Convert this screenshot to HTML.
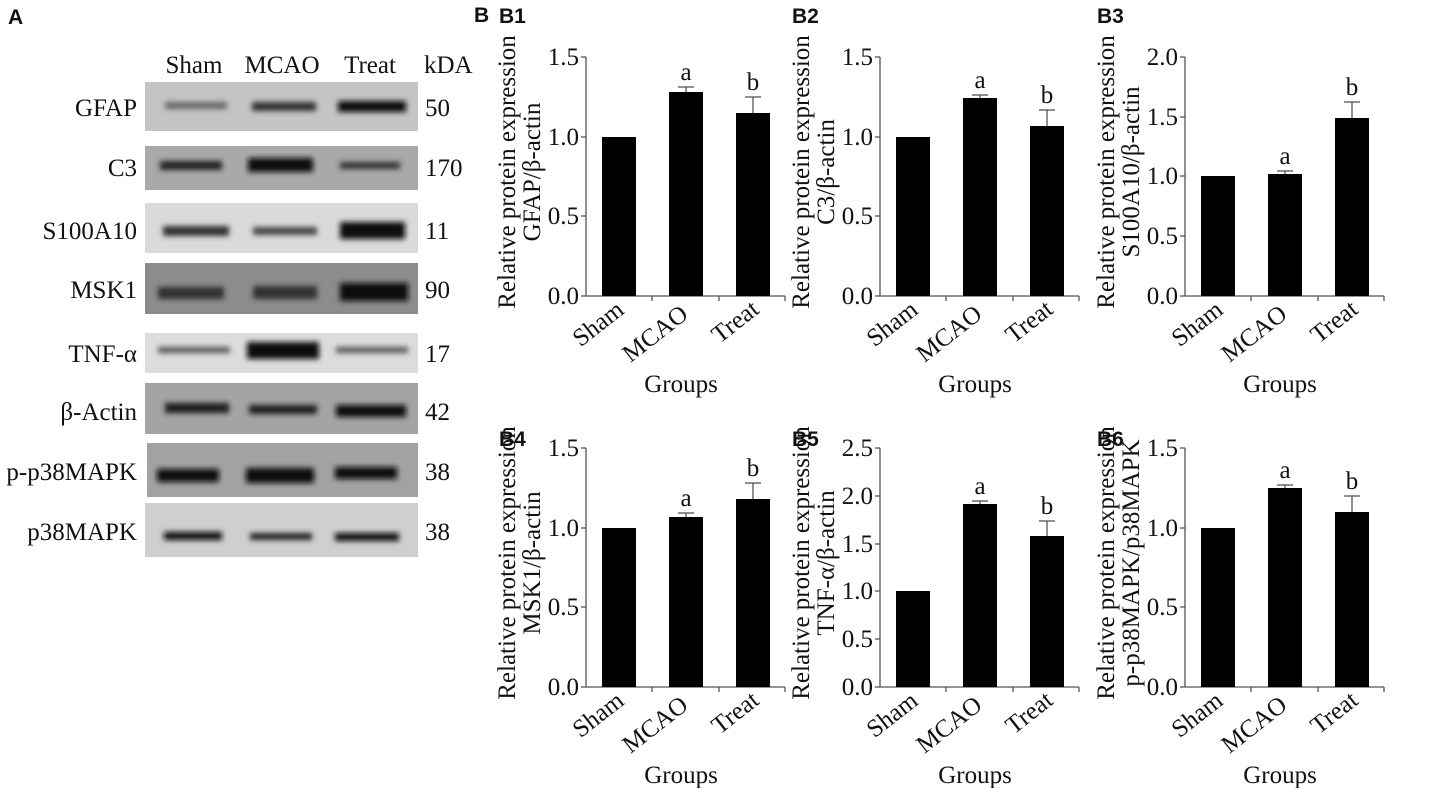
<!DOCTYPE html>
<html><head><meta charset="utf-8"><style>
body{margin:0;background:#fff;}
svg{display:block;}
.s{font-family:"Liberation Serif",serif;fill:#111;}
.t{font-size:25px;}
.y{font-size:25px;}
.b{font-family:"Liberation Sans",sans-serif;font-weight:bold;font-size:21px;fill:#111;}
</style></head><body>
<svg width="1447" height="788" viewBox="0 0 1447 788" xmlns="http://www.w3.org/2000/svg">
<defs>
<filter id="bl" x="-20%" y="-100%" width="140%" height="300%"><feGaussianBlur stdDeviation="2.6"/></filter>
<g id="ax">
<line x1="0" y1="-239" x2="0" y2="0" stroke="#555" stroke-width="1.3"/>
<line x1="0" y1="0" x2="199" y2="0" stroke="#555" stroke-width="1.3"/>
<line x1="66" y1="0" x2="66" y2="5" stroke="#555" stroke-width="1.3"/>
<line x1="133" y1="0" x2="133" y2="5" stroke="#555" stroke-width="1.3"/>
<line x1="199" y1="0" x2="199" y2="5" stroke="#555" stroke-width="1.3"/>
<text class="s t" transform="translate(17,34) rotate(-38)" text-anchor="middle">Sham</text>
<text class="s t" transform="translate(74,44) rotate(-38)" text-anchor="middle">MCAO</text>
<text class="s t" transform="translate(154,32) rotate(-38)" text-anchor="middle">Treat</text>
<text class="s t" x="95" y="96" text-anchor="middle">Groups</text>
</g>
</defs>
<text class="b" x="8" y="24">A</text>
<text class="b" x="474" y="22">B</text>
<g class="s t">
<text x="194" y="73" text-anchor="middle">Sham</text>
<text x="282" y="73" text-anchor="middle">MCAO</text>
<text x="370" y="73" text-anchor="middle">Treat</text>
<text x="424" y="73">kDA</text>
</g>
<g>
<rect x="145" y="82" width="273" height="49" fill="#c4c4c4"/>
<rect x="145" y="146" width="273" height="44" fill="#a9a9a9"/>
<rect x="145" y="203" width="273" height="50" fill="#dadada"/>
<rect x="145" y="263" width="273" height="51" fill="#8c8c8c"/>
<rect x="145" y="333" width="273" height="40" fill="#dcdcdc"/>
<rect x="145" y="383" width="273" height="51" fill="#a4a4a4"/>
<rect x="147" y="443" width="271" height="54" fill="#a2a2a2"/>
<rect x="145" y="503" width="273" height="54" fill="#cfcfcf"/>
</g>
<g filter="url(#bl)" fill="#111">
<rect x="165" y="102" width="62" height="7" fill="#666"/><rect x="252" y="102" width="64" height="9" fill="#333"/><rect x="338" y="101" width="68" height="11"/>
<rect x="160" y="161" width="62" height="9" fill="#222"/><rect x="248" y="158" width="65" height="14"/><rect x="340" y="162" width="60" height="7" fill="#333"/>
<rect x="163" y="226" width="66" height="10" fill="#333"/><rect x="253" y="227" width="64" height="8" fill="#444"/><rect x="340" y="222" width="65" height="17"/>
<rect x="158" y="287" width="66" height="12" fill="#333"/><rect x="253" y="286" width="64" height="13" fill="#333"/><rect x="340" y="283" width="68" height="18"/>
<rect x="158" y="347" width="72" height="6" fill="#555"/><rect x="247" y="342" width="72" height="17"/><rect x="336" y="347" width="72" height="6" fill="#555"/>
<rect x="165" y="403" width="64" height="10" fill="#1a1a1a"/><rect x="249" y="405" width="68" height="9" fill="#1a1a1a"/><rect x="336" y="405" width="70" height="12"/>
<rect x="157" y="469" width="62" height="13"/><rect x="246" y="468" width="68" height="15"/><rect x="335" y="467" width="62" height="12"/>
<rect x="164" y="532" width="58" height="8"/><rect x="250" y="533" width="62" height="7" fill="#222"/><rect x="335" y="533" width="64" height="8"/>
</g>
<g class="s t" text-anchor="end">
<text x="137" y="116">GFAP</text>
<text x="137" y="176">C3</text>
<text x="137" y="239">S100A10</text>
<text x="137" y="298">MSK1</text>
<text x="137" y="362">TNF-α</text>
<text x="137" y="420">β-Actin</text>
<text x="137" y="480">p-p38MAPK</text>
<text x="137" y="540">p38MAPK</text>
</g>
<g class="s t">
<text x="425" y="116">50</text>
<text x="425" y="176">170</text>
<text x="425" y="239">11</text>
<text x="425" y="298">90</text>
<text x="425" y="362">17</text>
<text x="425" y="420">42</text>
<text x="425" y="480">38</text>
<text x="425" y="540">38</text>
</g>

<!-- B1 -->
<text class="b" x="499" y="23">B1</text>
<g transform="translate(586,296)">
<use href="#ax"/>
<g class="s t" text-anchor="end"><text x="-7" y="8">0.0</text><text x="-7" y="-72">0.5</text><text x="-7" y="-151">1.0</text><text x="-7" y="-231">1.5</text></g>
<g stroke="#555" stroke-width="1.3"><line x1="-5" x2="0" y1="0" y2="0"/><line x1="-5" x2="0" y1="-80" y2="-80"/><line x1="-5" x2="0" y1="-159" y2="-159"/><line x1="-5" x2="0" y1="-239" y2="-239"/></g>
<rect x="16" y="-159" width="34" height="159"/><rect x="83" y="-204" width="34" height="204"/><rect x="150" y="-183" width="34" height="183"/>
<g stroke="#555" stroke-width="1.3"><line x1="100" x2="100" y1="-204" y2="-209"/><line x1="92" x2="108" y1="-209" y2="-209"/><line x1="167" x2="167" y1="-183" y2="-199"/><line x1="159" x2="175" y1="-199" y2="-199"/></g>
<text class="s t" x="100" y="-216" text-anchor="middle">a</text><text class="s t" x="167" y="-206" text-anchor="middle">b</text>
<text class="s y" transform="translate(-71,-124) rotate(-90)" text-anchor="middle">Relative protein expression</text>
<text class="s y" transform="translate(-46,-124) rotate(-90)" text-anchor="middle">GFAP/β-actin</text>
</g>

<!-- B2 -->
<text class="b" x="792" y="23">B2</text>
<g transform="translate(880,296)">
<use href="#ax"/>
<g class="s t" text-anchor="end"><text x="-7" y="8">0.0</text><text x="-7" y="-72">0.5</text><text x="-7" y="-151">1.0</text><text x="-7" y="-231">1.5</text></g>
<g stroke="#555" stroke-width="1.3"><line x1="-5" x2="0" y1="0" y2="0"/><line x1="-5" x2="0" y1="-80" y2="-80"/><line x1="-5" x2="0" y1="-159" y2="-159"/><line x1="-5" x2="0" y1="-239" y2="-239"/></g>
<rect x="16" y="-159" width="34" height="159"/><rect x="83" y="-198" width="34" height="198"/><rect x="150" y="-170" width="34" height="170"/>
<g stroke="#555" stroke-width="1.3"><line x1="100" x2="100" y1="-198" y2="-201"/><line x1="92" x2="108" y1="-201" y2="-201"/><line x1="167" x2="167" y1="-170" y2="-186"/><line x1="159" x2="175" y1="-186" y2="-186"/></g>
<text class="s t" x="100" y="-208" text-anchor="middle">a</text><text class="s t" x="167" y="-193" text-anchor="middle">b</text>
<text class="s y" transform="translate(-71,-124) rotate(-90)" text-anchor="middle">Relative protein expression</text>
<text class="s y" transform="translate(-46,-124) rotate(-90)" text-anchor="middle">C3/β-actin</text>
</g>

<!-- B3 -->
<text class="b" x="1097" y="23">B3</text>
<g transform="translate(1185,296)">
<use href="#ax"/>
<g class="s t" text-anchor="end"><text x="-7" y="8">0.0</text><text x="-7" y="-52">0.5</text><text x="-7" y="-112">1.0</text><text x="-7" y="-171">1.5</text><text x="-7" y="-231">2.0</text></g>
<g stroke="#555" stroke-width="1.3"><line x1="-5" x2="0" y1="0" y2="0"/><line x1="-5" x2="0" y1="-60" y2="-60"/><line x1="-5" x2="0" y1="-120" y2="-120"/><line x1="-5" x2="0" y1="-179" y2="-179"/><line x1="-5" x2="0" y1="-239" y2="-239"/></g>
<rect x="16" y="-120" width="34" height="120"/><rect x="83" y="-122" width="34" height="122"/><rect x="150" y="-178" width="34" height="178"/>
<g stroke="#555" stroke-width="1.3"><line x1="100" x2="100" y1="-122" y2="-125"/><line x1="92" x2="108" y1="-125" y2="-125"/><line x1="167" x2="167" y1="-178" y2="-194"/><line x1="159" x2="175" y1="-194" y2="-194"/></g>
<text class="s t" x="100" y="-132" text-anchor="middle">a</text><text class="s t" x="167" y="-201" text-anchor="middle">b</text>
<text class="s y" transform="translate(-71,-124) rotate(-90)" text-anchor="middle">Relative protein expression</text>
<text class="s y" transform="translate(-46,-124) rotate(-90)" text-anchor="middle">S100A10/β-actin</text>
</g>

<!-- B4 -->
<text class="b" x="499" y="446">B4</text>
<g transform="translate(586,687)">
<use href="#ax"/>
<g class="s t" text-anchor="end"><text x="-7" y="8">0.0</text><text x="-7" y="-72">0.5</text><text x="-7" y="-151">1.0</text><text x="-7" y="-231">1.5</text></g>
<g stroke="#555" stroke-width="1.3"><line x1="-5" x2="0" y1="0" y2="0"/><line x1="-5" x2="0" y1="-80" y2="-80"/><line x1="-5" x2="0" y1="-159" y2="-159"/><line x1="-5" x2="0" y1="-239" y2="-239"/></g>
<rect x="16" y="-159" width="34" height="159"/><rect x="83" y="-170" width="34" height="170"/><rect x="150" y="-188" width="34" height="188"/>
<g stroke="#555" stroke-width="1.3"><line x1="100" x2="100" y1="-170" y2="-174"/><line x1="92" x2="108" y1="-174" y2="-174"/><line x1="167" x2="167" y1="-188" y2="-204"/><line x1="159" x2="175" y1="-204" y2="-204"/></g>
<text class="s t" x="100" y="-181" text-anchor="middle">a</text><text class="s t" x="167" y="-211" text-anchor="middle">b</text>
<text class="s y" transform="translate(-71,-124) rotate(-90)" text-anchor="middle">Relative protein expression</text>
<text class="s y" transform="translate(-46,-124) rotate(-90)" text-anchor="middle">MSK1/β-actin</text>
</g>

<!-- B5 -->
<text class="b" x="792" y="446">B5</text>
<g transform="translate(880,687)">
<use href="#ax"/>
<g class="s t" text-anchor="end"><text x="-7" y="8">0.0</text><text x="-7" y="-40">0.5</text><text x="-7" y="-88">1.0</text><text x="-7" y="-135">1.5</text><text x="-7" y="-183">2.0</text><text x="-7" y="-231">2.5</text></g>
<g stroke="#555" stroke-width="1.3"><line x1="-5" x2="0" y1="0" y2="0"/><line x1="-5" x2="0" y1="-48" y2="-48"/><line x1="-5" x2="0" y1="-96" y2="-96"/><line x1="-5" x2="0" y1="-143" y2="-143"/><line x1="-5" x2="0" y1="-191" y2="-191"/><line x1="-5" x2="0" y1="-239" y2="-239"/></g>
<rect x="16" y="-96" width="34" height="96"/><rect x="83" y="-183" width="34" height="183"/><rect x="150" y="-151" width="34" height="151"/>
<g stroke="#555" stroke-width="1.3"><line x1="100" x2="100" y1="-183" y2="-186"/><line x1="92" x2="108" y1="-186" y2="-186"/><line x1="167" x2="167" y1="-151" y2="-166"/><line x1="159" x2="175" y1="-166" y2="-166"/></g>
<text class="s t" x="100" y="-193" text-anchor="middle">a</text><text class="s t" x="167" y="-173" text-anchor="middle">b</text>
<text class="s y" transform="translate(-71,-124) rotate(-90)" text-anchor="middle">Relative protein expression</text>
<text class="s y" transform="translate(-46,-124) rotate(-90)" text-anchor="middle">TNF-α/β-actin</text>
</g>

<!-- B6 -->
<text class="b" x="1097" y="446">B6</text>
<g transform="translate(1185,687)">
<use href="#ax"/>
<g class="s t" text-anchor="end"><text x="-7" y="8">0.0</text><text x="-7" y="-72">0.5</text><text x="-7" y="-151">1.0</text><text x="-7" y="-231">1.5</text></g>
<g stroke="#555" stroke-width="1.3"><line x1="-5" x2="0" y1="0" y2="0"/><line x1="-5" x2="0" y1="-80" y2="-80"/><line x1="-5" x2="0" y1="-159" y2="-159"/><line x1="-5" x2="0" y1="-239" y2="-239"/></g>
<rect x="16" y="-159" width="34" height="159"/><rect x="83" y="-199" width="34" height="199"/><rect x="150" y="-175" width="34" height="175"/>
<g stroke="#555" stroke-width="1.3"><line x1="100" x2="100" y1="-199" y2="-202"/><line x1="92" x2="108" y1="-202" y2="-202"/><line x1="167" x2="167" y1="-175" y2="-191"/><line x1="159" x2="175" y1="-191" y2="-191"/></g>
<text class="s t" x="100" y="-209" text-anchor="middle">a</text><text class="s t" x="167" y="-198" text-anchor="middle">b</text>
<text class="s y" transform="translate(-71,-124) rotate(-90)" text-anchor="middle">Relative protein expression</text>
<text class="s y" transform="translate(-46,-124) rotate(-90)" text-anchor="middle">p-p38MAPK/p38MAPK</text>
</g>
</svg>
</body></html>
